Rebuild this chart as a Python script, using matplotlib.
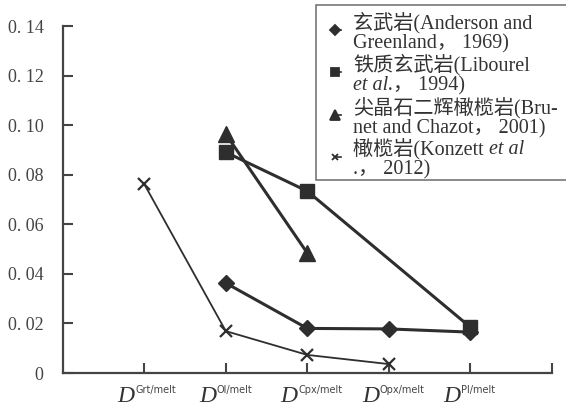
import numpy as np
import matplotlib
matplotlib.use("Agg")
import matplotlib.pyplot as plt
from matplotlib.lines import Line2D
from matplotlib.patches import Rectangle
from matplotlib.transforms import blended_transform_factory

plt.rcParams['font.family'] = ['Liberation Serif', 'Noto Sans CJK SC']

# partition coefficients, x = 1..5 for Grt, Ol, Cpx, Opx, Pl
phases = ['Grt', 'Ol', 'Cpx', 'Opx', 'Pl']
basalt_x = [2, 3, 4, 5]
basalt_y = [0.0363, 0.0180, 0.0178, 0.0165]
ferro_x = [2, 3, 5]
ferro_y = [0.0891, 0.0734, 0.0185]
spinel_x = [2, 3]
spinel_y = [0.0964, 0.0484]
perid_x = [1, 2, 3, 4]
perid_y = [0.0762, 0.0169, 0.0073, 0.0036]

yticks = [0, 0.02, 0.04, 0.06, 0.08, 0.10, 0.12, 0.14]
ylabels = ['0', '0. 02', '0. 04', '0. 06', '0. 08', '0. 10', '0. 12', '0. 14']

dark = '#2e2e2e'
fig = plt.figure(figsize=(5.66, 4.09), dpi=100)
ax = fig.add_axes([0.111, 0.088, 0.864, 0.848])

ax.plot(basalt_x, basalt_y, color=dark, lw=2.2, marker='D', ms=8, zorder=3)
ax.plot(ferro_x, ferro_y, color=dark, lw=2.2, marker='s', ms=10, zorder=3)
ax.plot(spinel_x, spinel_y, color=dark, lw=2.2, marker='^', ms=11, zorder=3)
ax.plot(perid_x, perid_y, color=dark, lw=1.3, marker='x', ms=8, mew=1.6, zorder=3)

ax.set_xlim(0, 6)
ax.set_ylim(0, 0.14)
ax.set_xticks([1, 2, 3, 4, 5, 6])
ax.set_xticklabels([])
ax.set_yticks(yticks)
ax.set_yticklabels(ylabels, fontsize=13, color='#444444')
ax.tick_params(direction='in', length=7, width=1.5, color='#444444')
ax.tick_params(axis='y', pad=14)
for s in ['top', 'right']:
    ax.spines[s].set_visible(False)
for s in ['left', 'bottom']:
    ax.spines[s].set_color('#444444')
    ax.spines[s].set_linewidth(1.6)

# D^{phase/melt} labels: italic D with a small sans superscript
trans = blended_transform_factory(ax.transData, ax.transAxes)
for i, p in enumerate(phases):
    ax.text(i + 1 - 0.12, -0.083, 'D', transform=trans, fontsize=17,
            style='italic', color='#333333', ha='right', va='baseline')
    ax.text(i + 1 - 0.11, -0.036, p + '/melt', transform=trans, fontsize=7,
            family='DejaVu Sans', color='#444444', ha='left', va='top')

# legend box drawn by hand so markers sit on the first line of each entry
W, H = 566.0, 409.0
fig.add_artist(Rectangle((316 / W, 1 - 180 / H), 300 / W, 175 / H,
                         transform=fig.transFigure, fill=True,
                         facecolor='white', edgecolor='#777777', lw=1.2, zorder=5))
lines = [
    [('玄武岩(Anderson and', 'normal')],
    [('Greenland， 1969)', 'normal')],
    [('铁质玄武岩(Libourel', 'normal')],
    [('et al.', 'italic'), ('， 1994)', 'normal')],
    [('尖晶石二辉橄榄岩(Bru-', 'normal')],
    [('net and Chazot， 2001)', 'normal')],
    [('橄榄岩(Konzett ', 'normal'), ('et al', 'italic')],
    [('.， 2012)', 'normal')],
]
ys = [23, 44, 65, 86, 108, 129, 150, 170]
renderer = fig.canvas.get_renderer()
for parts, yy in zip(lines, ys):
    x0 = 353.0
    for t, st in parts:
        txt = fig.text(x0 / W, 1 - yy / H, t, fontsize=14.5, color='#333333',
                       style=st, va='center', ha='left', zorder=6)
        x0 += txt.get_window_extent(renderer).width
handles = [('D', 5), ('s', 6), ('^', 7), ('x', 5)]
for (m, size), yy in zip(handles, ys[::2]):
    fig.add_artist(Line2D([335 / W, 341 / W], [1 - (yy + 7) / H] * 2,
                          transform=fig.transFigure, color=dark, lw=1.2,
                          marker=m, ms=size, mew=1.3, markevery=[0], zorder=6))

fig.savefig('out.png', dpi=100)
